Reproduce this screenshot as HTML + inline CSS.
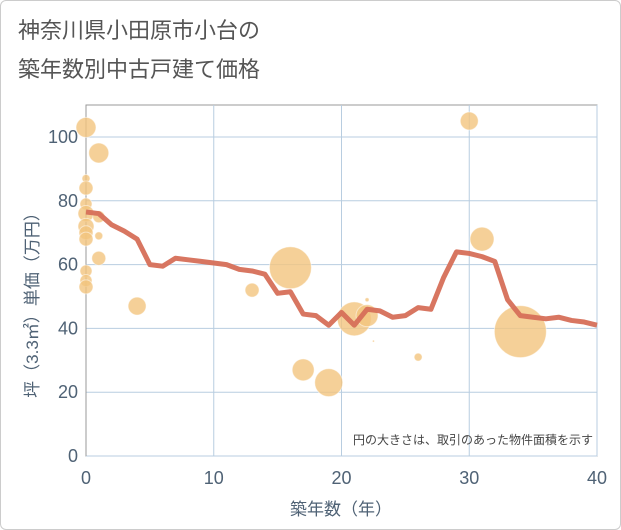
<!DOCTYPE html>
<html><head><meta charset="utf-8"><style>
body{margin:0;background:#fff;font-family:"Liberation Sans","Noto Sans CJK JP",sans-serif}
#wrap{position:relative;width:619px;height:528px;border:1px solid #ccc;border-radius:6px;overflow:hidden}
</style></head><body>
<div id="wrap">
<svg id="chart" width="621" height="530"></svg>
</div>
<script>
const lineYears=[0,1,2,3,4,5,6,7,8,9,10,11,12,13,14,15,16,17,18,19,20,21,22,23,24,25,26,27,28,29,30,31,32,33,34,35,36,37,38,39,40];
const lineValues=[76.5,76,72.5,70.5,68,60,59.5,62,61.5,61,60.5,60,58.5,58,57,51,51.5,44.5,44,41,45,41,46,45.5,43.5,44,46.5,46,56,64,63.5,62.5,61,49,44,43.5,43,43.5,42.5,42,41];
const bubbleYears=[0,1,0,0,0,0,1,0,0,0,1,1,0,0,0,4,13,16,17,19,21,22,22,22.5,26,30,31,34];
const bubbleValues=[103,95,87,84,79,76,75,72,70,68,69,62,58,55,53,47,52,59,27,23,43,44,49,36,31,105,68,39];
const bubbleRadius=[10,10,4,7,6,8,6,8,7,7,4,7,6,6,7,9,7,21,11,14,17,11,2,1,4,9,12,26];
const xTicks=[0,10,20,30,40];
const yTicks=[0,20,40,60,80,100];
const NS='http://www.w3.org/2000/svg';
const svg=document.getElementById('chart');
const X0=85,X1=596,Y0=455,Y1=104;
const xs=v=>X0+(X1-X0)*v/40;
const ys=v=>Y0-(Y0-136)*v/100;
function mk(t,a,p){const e=document.createElementNS(NS,t);for(const k in a)e.setAttribute(k,a[k]);(p||svg).appendChild(e);return e;}
function txt(s,a){const e=mk('text',a);e.textContent=s;return e;}
let t=txt('神奈川県小田原市小台の',{x:17,y:37,'font-size':22,fill:'#555'});

t=txt('築年数別中古戸建て価格',{x:17,y:76,'font-size':22,fill:'#555'});

const plot=mk('rect',{x:X0,y:Y1,width:X1-X0,height:Y0-Y1,fill:'#fff',stroke:'#999','stroke-width':1});

xTicks.forEach(v=>{
 const g=mk('line',{x1:xs(v),x2:xs(v),y1:Y1,y2:Y0,stroke:'#b8cde0'});
 
 const l=txt(v,{x:xs(v),y:483,'font-size':18,fill:'#4f6275','text-anchor':'middle'});
 
});
yTicks.forEach(v=>{
 const g=mk('line',{x1:X0,x2:X1,y1:ys(v),y2:ys(v),stroke:'#b8cde0'});
 
 const l=txt(v,{x:77,y:ys(v)+6,'font-size':18,fill:'#4f6275','text-anchor':'end'});
 
});
mk('line',{x1:X0,x2:X0,y1:Y1,y2:Y0,stroke:'#999'});
bubbleYears.forEach((yr,i)=>{
 const c=mk('circle',{cx:xs(yr),cy:ys(bubbleValues[i]),r:bubbleRadius[i],fill:'#f3c47e','fill-opacity':0.8,stroke:'#fff','stroke-opacity':0.5});
 
 
});
const pts=lineYears.map((y,i)=>xs(y)+','+ys(lineValues[i])).join(' ');
const pl=mk('polyline',{points:pts,fill:'none',stroke:'#d66f58','stroke-width':5,'stroke-linejoin':'round','stroke-opacity':0.95});


t=txt('円の大きさは、取引のあった物件面積を示す',{x:592,y:443,'font-size':12,fill:'#444','text-anchor':'end'});

t=txt('築年数（年）',{x:340,y:514,'font-size':17,fill:'#4f6275','text-anchor':'middle'});

t=txt('坪（3.3㎡）単価（万円）',{x:0,y:0,'font-size':17,fill:'#4f6275','text-anchor':'middle',transform:'translate(37,300) rotate(-90)'});

</script>
</body></html>
